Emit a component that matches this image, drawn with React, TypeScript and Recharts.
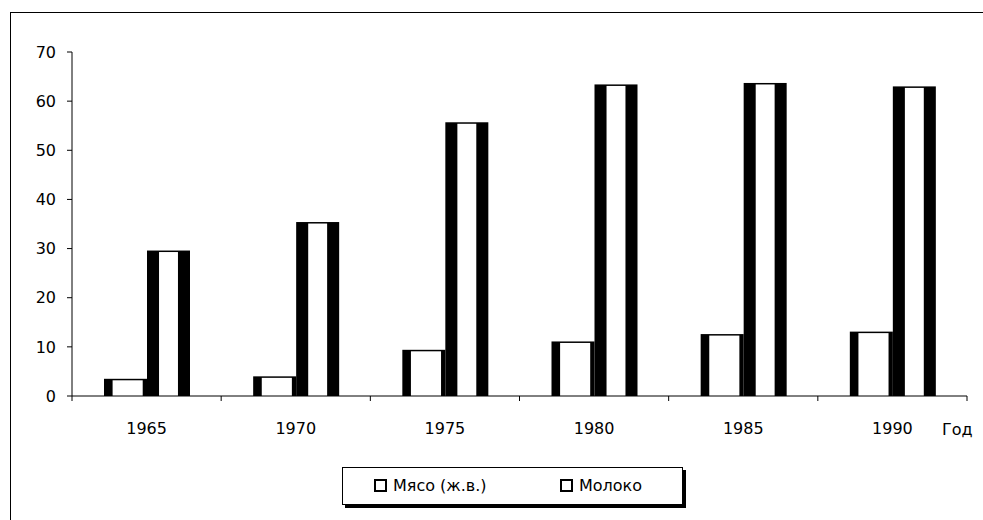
import React from 'react';
import { BarChart, Bar, XAxis, YAxis, Label } from 'recharts';

const years = ['1965', '1970', '1975', '1980', '1985', '1990'];
const meat = [3.5, 4.0, 9.4, 11.1, 12.6, 13.1];
const milk = [29.6, 35.4, 55.7, 63.4, 63.7, 63.0];
const yTicks = [0, 10, 20, 30, 40, 50, 60, 70];
const seriesNames = ['Мясо (ж.в.)', 'Молоко'];

const data = years.map((y, i) => ({ year: y, meat: meat[i], milk: milk[i] }));

const FONT = '"DejaVu Sans", Verdana, sans-serif';
const FS = 16;

const makeShape = (leftFrac: number, rightFrac: number) => (props: any) => {
  const { x, y, width, height } = props;
  if (!height || height <= 0) return null;
  const l = width * leftFrac;
  const r = width * rightFrac;
  return (
    <g>
      <rect x={x} y={y} width={width} height={height} fill="#000" />
      <rect x={x + l} y={y + 1.5} width={Math.max(0, width - l - r)} height={Math.max(0, height - 1.5)} fill="#fff" />
    </g>
  );
};

const MeatShape = makeShape(0.2, 0.1);
const MilkShape = makeShape(0.28, 0.28);

const XTick = (props: any) => {
  const { x, y, payload, index } = props;
  const off = payload && payload.offset ? payload.offset : 74.6;
  return (
    <g>
      <line x1={x - off} x2={x - off} y1={y - 8} y2={y - 3} stroke="#000" strokeWidth={1} />
      {index === years.length - 1 && (
        <line x1={x + off} x2={x + off} y1={y - 8} y2={y - 3} stroke="#000" strokeWidth={1} />
      )}
      <text x={x} y={y + 30} textAnchor="middle" fontFamily={FONT} fontSize={FS} fill="#000">
        {payload.value}
      </text>
    </g>
  );
};

const LegendBox = () => (
  <div
    style={{
      position: 'absolute',
      left: 342,
      top: 467,
      width: 341,
      height: 38,
      border: '1px solid #000',
      background: '#fff',
      boxShadow: '3px 3px 0 #000',
      fontFamily: FONT,
      fontSize: FS,
      color: '#000',
      boxSizing: 'border-box',
    }}
  >
    {seriesNames.map((n, i) => (
      <div
        key={n}
        style={{
          position: 'absolute',
          left: i === 0 ? 31 : 217,
          top: 8,
          display: 'flex',
          alignItems: 'center',
          whiteSpace: 'nowrap',
        }}
      >
        <span
          style={{
            display: 'inline-block',
            width: 9,
            height: 9,
            border: '2px solid #000',
            background: '#fff',
            marginRight: 6,
          }}
        />
        <span>{n}</span>
      </div>
    ))}
  </div>
);

export default function App() {
  return (
    <div
      style={{
        position: 'absolute',
        left: 0,
        top: 0,
        width: 983,
        height: 520,
        overflow: 'hidden',
        background: '#fff',
      }}
    >
      <div
        style={{
          position: 'absolute',
          left: 10,
          top: 12,
          width: 1100,
          height: 700,
          border: '1px solid #000',
          boxSizing: 'border-box',
        }}
      />
      <div style={{ position: 'absolute', left: 0, top: 0 }}>
        <BarChart
          width={983}
          height={520}
          data={data}
          margin={{ top: 52, right: 16, left: 0, bottom: 94 }}
          barGap={0}
          barSize={43}
        >
          <YAxis
            width={72}
            domain={[0, 70]}
            ticks={yTicks}
            interval={0}
            axisLine={{ stroke: '#000', strokeWidth: 1 }}
            tickLine={{ stroke: '#000', strokeWidth: 1 }}
            tickSize={5}
            tickMargin={11}
            tick={{ fontFamily: FONT, fontSize: FS, fill: '#000' }}
          />
          <XAxis
            dataKey="year"
            height={30}
            axisLine={{ stroke: '#000', strokeWidth: 1 }}
            tickLine={false}
            tick={<XTick />}
            interval={0}
          >
            <Label
              content={(p: any) => {
                const vb = p.viewBox || {};
                return (
                  <text
                    x={(vb.x || 0) + (vb.width || 0) - 25}
                    y={(vb.y || 0) + 39}
                    fontFamily={FONT}
                    fontSize={FS}
                    fill="#000"
                  >
                    Год
                  </text>
                );
              }}
            />
          </XAxis>
          <Bar dataKey="meat" name={seriesNames[0]} shape={MeatShape} isAnimationActive={false} />
          <Bar dataKey="milk" name={seriesNames[1]} shape={MilkShape} isAnimationActive={false} />
        </BarChart>
      </div>
      <LegendBox />
    </div>
  );
}
